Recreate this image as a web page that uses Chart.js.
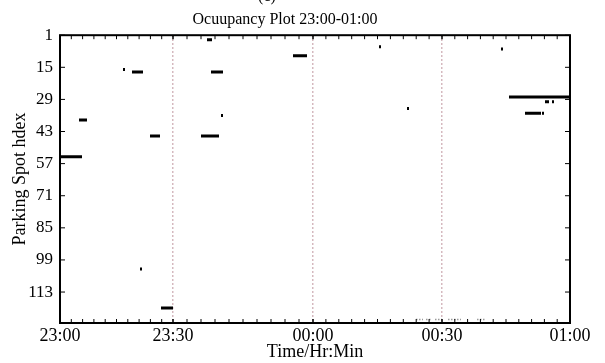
<!DOCTYPE html>
<html>
<head>
<meta charset="utf-8">
<title>Ocuupancy Plot</title>
<script src="https://cdn.jsdelivr.net/npm/chart.js@4"></script>
<style>
  body { margin: 0; background: #fff; }
  canvas { display: block; }
</style>
</head>
<body>
<canvas id="occupancy_chart" width="605" height="363"></canvas>
<script>
// x is the sample index of the recording, labelled with clock times
const x_ticks = [0, 113, 253, 382, 510]
const x_labels = ['23:00', '23:30', '00:00', '00:30', '01:00']
const y_ticks = [1, 15, 29, 43, 57, 71, 85, 99, 113]

// one entry per occupied interval (spot, first sample, last sample)
const spot_list  = [54, 38, 16, 17, 45, 103, 120, 3, 17, 36, 45, 10, 6, 33, 7, 28, 30, 30, 35, 35]
const start_list = [1, 19, 63, 72, 90, 80, 101, 147, 151, 161, 141, 233, 319, 347, 441, 449, 485, 492, 465, 482]
const end_list   = [22, 27, 65, 83, 100, 82, 113, 152, 163, 163, 159, 247, 321, 349, 443, 510, 489, 494, 481, 484]

// weak readings on the last row
const faint_spot  = [125, 125, 125, 125, 125]
const faint_start = [356, 366, 375, 388, 417]
const faint_end   = [363, 371, 382, 401, 426]

const serif = "'Liberation Serif', 'Times New Roman', serif"
const ctx = document.getElementById('occupancy_chart').getContext('2d')

let toPoints = (spots, starts, ends) => {
    let pts = []
    for (let i = 0; i < spots.length; i++) {
        pts.push({x: starts[i], y: spots[i]})
        pts.push({x: ends[i], y: spots[i]})
        pts.push({x: ends[i], y: null})
    }
    return pts
}

// box round the plot, inward ticks, and the cut off panel letter
const frame_plugin = {
    id: 'frame',
    afterDraw(chart) {
        const c = chart.ctx, a = chart.chartArea
        const x = chart.scales.x, y = chart.scales.y
        c.save()
        c.strokeStyle = '#000'
        c.lineWidth = 1
        c.beginPath()
        for (let i = 0; i < x_ticks.length - 1; i++) {
            for (let k = 0; k <= 10; k++) {
                const px = x.getPixelForValue(x_ticks[i] + (x_ticks[i + 1] - x_ticks[i]) * k / 10)
                c.moveTo(px, a.top)
                c.lineTo(px, a.top + 4)
                c.moveTo(px, a.bottom)
                c.lineTo(px, a.bottom - 4)
            }
        }
        y_ticks.forEach(v => {
            const py = y.getPixelForValue(v)
            c.moveTo(a.left, py)
            c.lineTo(a.left + 5, py)
            c.moveTo(a.right, py)
            c.lineTo(a.right - 5, py)
        })
        c.stroke()
        c.lineWidth = 2
        c.strokeRect(a.left, a.top, a.right - a.left, a.bottom - a.top)

        c.fillStyle = '#000'
        c.font = '16px ' + serif
        c.textAlign = 'center'
        c.textBaseline = 'alphabetic'
        c.fillText('(c)', 267, 1)
        c.restore()
    }
}

let chart = new Chart(ctx, {
    type: 'line',
    data: {
        datasets: [{
            label: 'Occupied',
            data: toPoints(spot_list, start_list, end_list),
            borderColor: '#000',
            borderWidth: 3,
            borderCapStyle: 'butt',
            pointRadius: 0,
            spanGaps: false,
            fill: false
        }, {
            label: 'Weak',
            data: toPoints(faint_spot, faint_start, faint_end),
            borderColor: '#9a9a9a',
            borderWidth: 1.5,
            borderDash: [1.5, 1.5],
            borderCapStyle: 'butt',
            pointRadius: 0,
            spanGaps: false,
            fill: false
        }]
    },
    options: {
        responsive: false,
        animation: false,
        layout: { padding: { left: 0, right: 35, top: 0, bottom: 0 } },
        plugins: {
            legend: { display: false },
            tooltip: { enabled: false },
            title: {
                display: true,
                text: 'Ocuupancy Plot 23:00-01:00',
                color: '#000',
                font: { family: serif, size: 16, weight: 'normal' },
                padding: { top: 10, bottom: 6 }
            }
        },
        scales: {
            x: {
                type: 'linear',
                min: x_ticks[0],
                max: x_ticks[x_ticks.length - 1],
                afterBuildTicks: scale => { scale.ticks = x_ticks.map(v => ({value: v})) },
                afterFit: scale => { scale.height = 40 },
                ticks: {
                    color: '#000',
                    font: { family: serif, size: 18 },
                    padding: 2,
                    maxRotation: 0,
                    autoSkip: false,
                    callback: (v, i) => x_labels[i]
                },
                grid: {
                    drawTicks: false,
                    lineWidth: 1.5,
                    color: c => (c.tick && (c.tick.value === x_ticks[0] || c.tick.value === x_ticks[x_ticks.length - 1])) ? 'rgba(0,0,0,0)' : '#c8a2aa'
                },
                border: { display: false, dash: [1.5, 2.5] },
                title: {
                    display: true,
                    text: 'Time/Hr:Min',
                    color: '#000',
                    font: { family: serif, size: 18 },
                    padding: { top: 0, bottom: 0 }
                }
            },
            y: {
                type: 'linear',
                reverse: true,
                min: 1,
                max: 126.5,
                afterBuildTicks: scale => { scale.ticks = y_ticks.map(v => ({value: v})) },
                afterFit: scale => { scale.width = 60 },
                ticks: {
                    color: '#000',
                    font: { family: serif, size: 17 },
                    padding: 7,
                    autoSkip: false
                },
                grid: { display: false, drawTicks: false },
                border: { display: false },
                title: {
                    display: true,
                    text: 'Parking Spot hdex',
                    color: '#000',
                    font: { family: serif, size: 18 },
                    padding: { top: 9, bottom: 0 }
                }
            }
        }
    },
    plugins: [frame_plugin]
})
console.log('chart drawn')
</script>
</body>
</html>
